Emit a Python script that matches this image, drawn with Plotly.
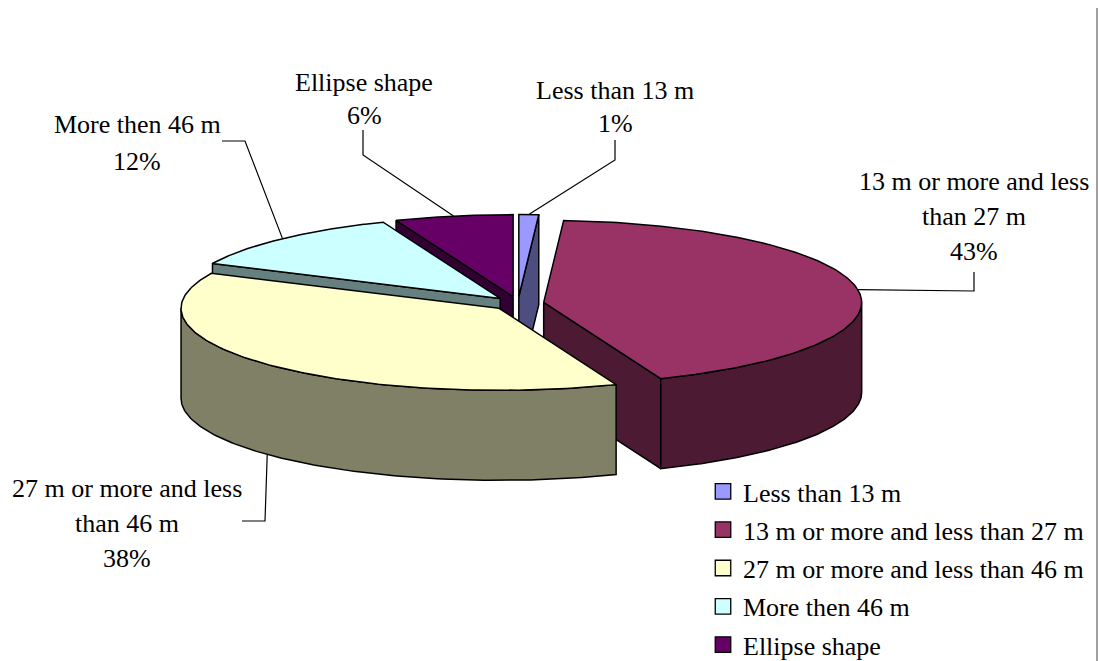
import numpy as np
import plotly.graph_objects as go

# Share of each length class, in percent
categories = ["Less than 13 m", "13 m or more and less than 27 m",
              "27 m or more and less than 46 m", "More then 46 m", "Ellipse shape"]
shares = [1, 43, 38, 12, 6]
top_colors = ["#9999FF", "#993366", "#FFFFCC", "#CCFFFF", "#660066"]
side_colors = ["#4D4D80", "#4D1A33", "#808066", "#668080", "#330033"]

# Callout text, one list of lines per slice, with line centre and first row
label_lines = [["Less than 13 m", "1%"],
               ["13 m or more and less", "than 27 m", "43%"],
               ["27 m or more and less", "than 46 m", "38%"],
               ["More then 46 m", "12%"],
               ["Ellipse shape", "6%"]]
label_x = [615, 974, 127, 137, 364]
label_y = [90, 181, 488, 124, 82]
label_step = [33, 35, 35, 37, 33]
# Bend points of each leader line, running from the label towards the slice
leader_bends = [[(615, 140), (615, 160)], [(974, 272), (974, 291)], [(242, 521), (265, 521)],
                [(222, 141), (245, 141)], [(363, 130), (363, 155)]]

WIDTH, HEIGHT = 1098, 661
CX, CY = 518, 303.5       # pie centre on the drawing axes
RX, RY = 318, 82          # radii of the tilted top face
DEPTH = 90                # wall height
EXPLODE_X, EXPLODE_Y = 26, 7
FONT = "Liberation Serif"
EDGE = dict(color="#000000", width=1.5)

ends = np.cumsum(shares) / np.sum(shares) * 360.0
starts = ends - np.array(shares) / np.sum(shares) * 360.0


def rim(apex, deg, drop=0.0):
    """Screen position of a rim point at a clockwise angle from twelve o'clock."""
    t = np.radians(deg)
    return apex[0] + RX * np.sin(t), apex[1] - RY * np.cos(t) + drop


def apex_of(i):
    t = np.radians((starts[i] + ends[i]) / 2)
    return CX + EXPLODE_X * np.sin(t), CY - EXPLODE_Y * np.cos(t)


def polygon(xs, ys, color):
    return go.Scatter(x=list(xs), y=list(ys), mode="lines", fill="toself", fillcolor=color,
                      line=EDGE, hoverinfo="skip", showlegend=False)


def cut_wall(apex, deg, color):
    ex, ey = rim(apex, deg)
    return polygon([apex[0], ex, ex, apex[0], apex[0]],
                   [apex[1], ey, ey + DEPTH, apex[1] + DEPTH, apex[1]], color)


fig = go.Figure()

# Painter's order: the slices further back go first
for i in [4, 3, 0, 1, 2]:
    apex = apex_of(i)
    # Only the cut faces turned towards the viewer are drawn
    if np.sin(np.radians(starts[i])) < -1e-6:
        fig.add_trace(cut_wall(apex, starts[i], side_colors[i]))
    if np.sin(np.radians(ends[i])) > 1e-6:
        fig.add_trace(cut_wall(apex, ends[i], side_colors[i]))

    lo, hi = max(starts[i], 90), min(ends[i], 270)
    if hi > lo:
        arc = np.linspace(lo, hi, 120)
        tx, ty = rim(apex, arc)
        bx, by = rim(apex, arc[::-1], DEPTH)
        fig.add_trace(polygon(np.r_[tx, bx, tx[0]], np.r_[ty, by, ty[0]], side_colors[i]))

    arc = np.linspace(starts[i], ends[i], 160)
    tx, ty = rim(apex, arc)
    fig.add_trace(polygon(np.r_[apex[0], tx, apex[0]], np.r_[apex[1], ty, apex[1]], top_colors[i]))

# Leader lines end on the rim at each slice's middle angle
for i, bends in enumerate(leader_bends):
    mid = (starts[i] + ends[i]) / 2
    drop = DEPTH if 90 < mid < 270 else 0
    ax, ay = rim(apex_of(i), mid, drop)
    fig.add_trace(go.Scatter(x=[p[0] for p in bends] + [ax], y=[p[1] for p in bends] + [ay],
                             mode="lines", line=dict(color="#000000", width=1.2),
                             hoverinfo="skip", showlegend=False))

# Legend entries
for i, name in enumerate(categories):
    fig.add_trace(go.Scatter(x=[None], y=[None], mode="markers", name=name, legendgroup=name,
                             marker=dict(symbol="square", size=15.5, color=top_colors[i],
                                         line=dict(color="#000000", width=1.3))))

annotations = []
for lines, x, y, step in zip(label_lines, label_x, label_y, label_step):
    for k, line in enumerate(lines):
        annotations.append(dict(x=x, y=y + k * step, text=line, showarrow=False,
                                xanchor="center", yanchor="middle",
                                font=dict(family=FONT, size=26, color="#000000")))

fig.update_layout(
    width=WIDTH, height=HEIGHT, margin=dict(l=0, r=0, t=0, b=0, autoexpand=False),
    paper_bgcolor="#FFFFFF", plot_bgcolor="#FFFFFF",
    xaxis=dict(range=[0, WIDTH], visible=False, fixedrange=True),
    yaxis=dict(range=[HEIGHT, 0], visible=False, fixedrange=True),
    annotations=annotations,
    shapes=[dict(type="line", x0=1097, x1=1097, y0=8, y1=HEIGHT,
                 line=dict(color="#808080", width=1.5))],
    legend=dict(x=703 / WIDTH, y=1 - 468 / HEIGHT, xanchor="left", yanchor="top",
                bgcolor="rgba(0,0,0,0)", tracegroupgap=1.5, itemsizing="trace",
                font=dict(family=FONT, size=26, color="#000000")),
)

fig.write_html("out.html")
